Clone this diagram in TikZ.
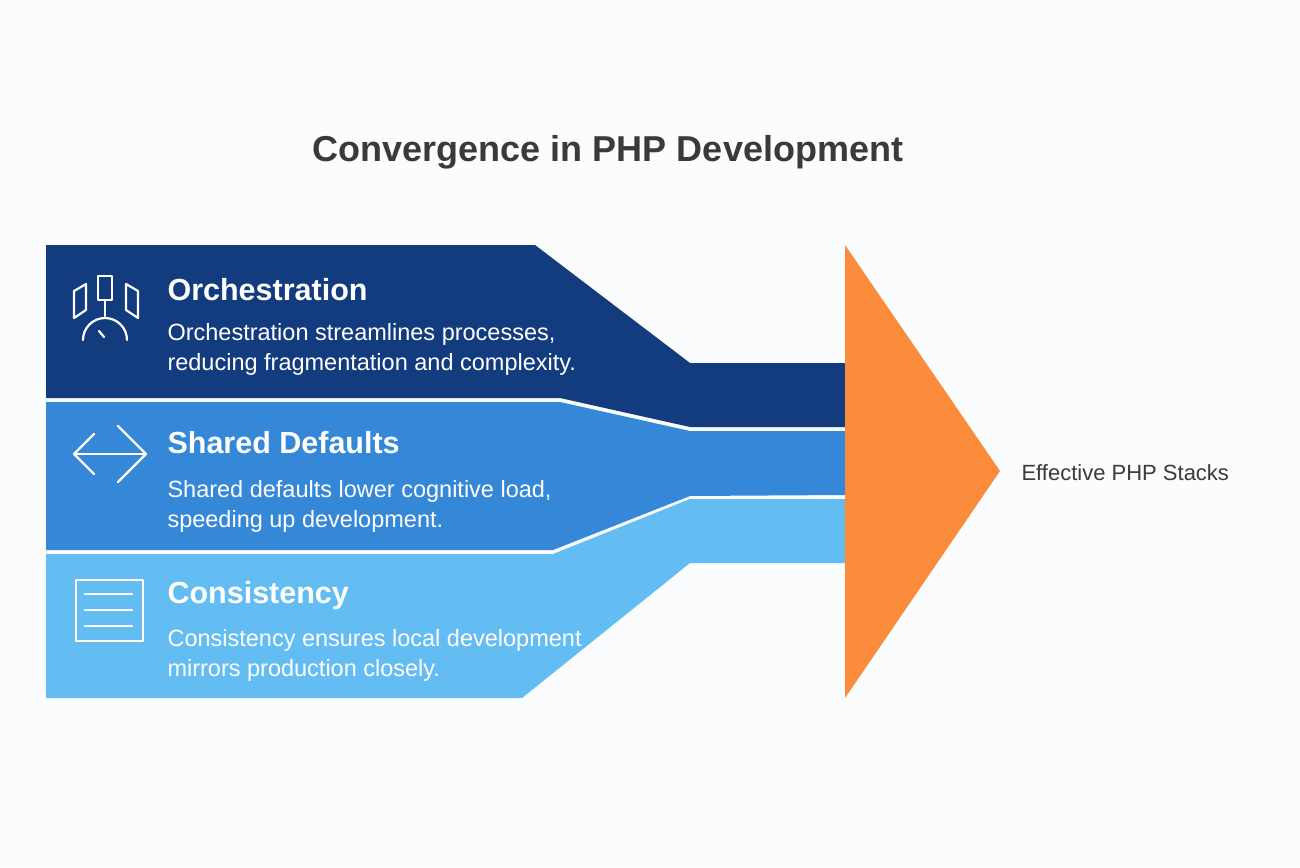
\documentclass[tikz,border=0pt]{standalone}
\usepackage{fontspec}
\setmainfont{Liberation Sans}
\definecolor{bg}{HTML}{FBFCFE}
\definecolor{dk}{HTML}{133C7F}
\definecolor{md}{HTML}{3587D8}
\definecolor{lt}{HTML}{63BDF2}
\definecolor{org}{HTML}{FB8C3C}
\definecolor{tt}{HTML}{3A3A3A}
\begin{document}
\begin{tikzpicture}[x=1pt,y=-1pt,
  head/.style={anchor=west,text=white,font=\bfseries\fontsize{30.5}{34}\selectfont},
  body/.style={anchor=north west,text=white,align=left,font=\fontsize{23.5}{30}\selectfont},
  ic/.style={draw=white,line width=2.2pt,line cap=round,line join=round}]
\fill[bg] (0,0) rectangle (1300,867);
\useasboundingbox (0,0) rectangle (1300,867);
\node[text=tt,font=\bfseries\fontsize{36}{40}\selectfont] (title) at (608,152) {Convergence in PHP Development};
\fill[dk] (46,245)--(535,245)--(690,363)--(845,363)--(845,427)--(690,427)--(560,398)--(46,398)--cycle;
\fill[md] (46,402)--(560,402)--(690,431)--(845,431)--(845,495)--(690,496)--(553,550)--(46,550)--cycle;
\fill[lt] (46,554)--(553,554)--(690,499)--(845,499)--(845,563)--(690,563)--(522,698)--(46,698)--cycle;
\fill[org] (845,245)--(1000,471)--(845,698)--cycle;
\node[anchor=west,text=tt,font=\fontsize{22}{25}\selectfont] (out) at (1018,473) {Effective PHP Stacks};
\node[head] (h1) at (164,290) {Orchestration};
\node[body] (b1) at (164,320) {Orchestration streamlines processes,\\reducing fragmentation and complexity.};
\node[head] (h2) at (164,443) {Shared Defaults};
\node[body] (b2) at (164,477) {Shared defaults lower cognitive load,\\speeding up development.};
\node[head] (h3) at (164,596) {Consistency};
\node[body] (b3) at (164,626) {Consistency ensures local development\\mirrors production closely.};
% icon 1
\draw[ic] (74,291)--(74,318)--(86,310)--(86,284)--cycle;
\draw[ic] (98,276) rectangle (112,300);
\draw[ic] (138,291)--(138,318)--(126,310)--(126,284)--cycle;
\draw[ic] (105,300)--(105,316);
\draw[ic] (83,340) arc (180:360:22);
\draw[ic] (99,331)--(104,337);
% icon 2
\draw[ic] (74,454)--(146,454);
\draw[ic] (94,434)--(74,454)--(94,474);
\draw[ic] (118,426)--(146,454)--(118,482);
% icon 3
\draw[ic] (76,580) rectangle (143,641);
\draw[ic] (85,594)--(132,594);
\draw[ic] (85,610)--(132,610);
\draw[ic] (85,626)--(132,626);
\end{tikzpicture}
\end{document}
